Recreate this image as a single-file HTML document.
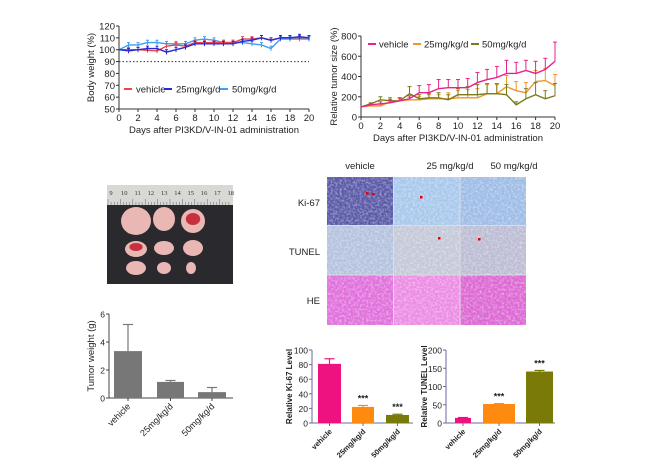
<!DOCTYPE html>
<html><head><meta charset="utf-8"><style>
html,body{margin:0;padding:0;background:#fff}
svg{display:block;font-family:"Liberation Sans",Arial,sans-serif}
</style></head><body>
<svg id="s" width="650" height="468" viewBox="0 0 650 468" xmlns="http://www.w3.org/2000/svg">
<defs>
<filter id="tx" x="0" y="0" width="100%" height="100%">
<feTurbulence type="fractalNoise" baseFrequency="0.45" numOctaves="2" seed="3"/>
<feColorMatrix type="matrix" values="0 0 0 0 1  0 0 0 0 1  0 0 0 0 1  0 0 0 1.4 -0.55"/>
</filter>
</defs>
<g id="g"></g>
</svg>
<script>
const g=document.getElementById('g');let h='';
function L(x1,y1,x2,y2,c,w,d){h+=`<line x1="${x1}" y1="${y1}" x2="${x2}" y2="${y2}" stroke="${c}" stroke-width="${w||1}" ${d?`stroke-dasharray="${d}"`:''}/>`;}
function T(x,y,t,s,a,extra){h+=`<text x="${x}" y="${y}" font-size="${s}" text-anchor="${a||'start'}" fill="#222" ${extra||''}>${t}</text>`;}
function R(x,y,w,hh,c,extra){h+=`<rect x="${x}" y="${y}" width="${w}" height="${hh}" fill="${c}" ${extra||''}/>`;}
// ---- Chart 1 body weight
{const x0=119,x1=309,yT=26,yB=109,vmin=50,vmax=120;
const X=d=>x0+(x1-x0)*d/20,Y=v=>yB-(yB-yT)*(v-vmin)/(vmax-vmin);
L(x0,yT,x0,yB,'#333');L(x0,yB,x1,yB,'#333');
for(let v=50;v<=120;v+=10){L(x0-3,Y(v),x0,Y(v),'#333');T(x0-4,Y(v)+3.5,v,9.5,'end');}
for(let d=0;d<=20;d+=2){L(X(d),yB,X(d),yB+3,'#333');T(X(d),yB+12,d,9.5,'middle');}
L(x0,Y(90),x1,Y(90),'#333',1,'1.5,2');
T((x0+x1)/2,133,'Days after PI3KD/V-IN-01 administration',9.5,'middle');
T(0,0,'Body weight (%)',9.5,'middle',`transform="translate(94,${(yT+yB)/2}) rotate(-90)"`);
const S=[['#3da0f0',[100,104,104,106,106,105,105,105,108,109,108,106,106,106,105,104,101,109,109,109,109]],
['#e8454c',[100,100,100,99.5,99,103,104,103,106,106,106,106,106,109,109,110,108,110,110,110,110]],
['#2a2ad0',[100,99,100,101,101,98,100,102,105,105,105,105,105,107,108,110,108,110,110,111,110]]];
S.forEach(([c,a])=>{h+=`<polyline fill="none" stroke="${c}" stroke-width="1.4" points="${a.map((v,i)=>X(i)+','+Y(v)).join(' ')}"/>`;
a.forEach((v,i)=>{if(i){L(X(i),Y(v+2),X(i),Y(v-2),c,1);L(X(i)-1.5,Y(v+2),X(i)+1.5,Y(v+2),c,1);}});});
[['#e8454c','vehicle',124],['#2a2ad0','25mg/kg/d',164],['#3da0f0','50mg/kg/d',220]].forEach(([c,t,x])=>{L(x,89,x+8,89,c,2);T(x+12,92.5,t,9.5);});
}
// ---- Chart 2 tumor size
{const x0=361,x1=555,yT=36,yB=117;
const X=d=>x0+(x1-x0)*d/20,Y=v=>yB-(yB-yT)*v/800;
L(x0,yT,x0,yB,'#333');L(x0,yB,x1,yB,'#333');
for(let v=0;v<=800;v+=200){L(x0-3,Y(v),x0,Y(v),'#333');T(x0-4,Y(v)+3.5,v,9.5,'end');}
for(let d=0;d<=20;d+=2){L(X(d),yB,X(d),yB+3,'#333');T(X(d),yB+12,d,9.5,'middle');}
T((x0+x1)/2,141,'Days after PI3KD/V-IN-01 administration',9.5,'middle');
T(0,0,'Relative tumor size (%)',9.5,'middle',`transform="translate(337,${(yT+yB)/2}) rotate(-90)"`);
const S=[['#f0952a',[100,110,110,150,160,170,170,180,180,180,190,190,190,230,230,300,260,240,350,360,310],[0,10,15,20,20,25,30,40,40,60,70,80,90,90,90,110,90,100,110,120,110]],
['#7a7a1a',[100,130,170,160,160,230,180,190,190,170,220,220,220,230,230,220,120,180,220,180,210],[0,10,30,30,30,70,40,40,50,50,60,80,100,100,100,100,30,100,120,80,120]],
['#e8228a',[100,120,130,140,160,180,240,240,280,290,290,290,340,370,390,430,430,460,430,470,550],[0,10,20,30,30,30,70,80,90,80,80,90,100,100,110,130,110,100,120,110,190]]];
S.forEach(([c,a,e])=>{h+=`<polyline fill="none" stroke="${c}" stroke-width="1.4" points="${a.map((v,i)=>X(i)+','+Y(v)).join(' ')}"/>`;
a.forEach((v,i)=>{if(i){L(X(i),Y(v),X(i),Y(v+e[i]),c,1);L(X(i)-2,Y(v+e[i]),X(i)+2,Y(v+e[i]),c,1);}});});
[['#e8228a','vehicle',368],['#f0952a','25mg/kg/d',413],['#7a7a1a','50mg/kg/d',471]].forEach(([c,t,x])=>{L(x,44,x+8,44,c,2);T(x+11,47.5,t,9.5);});
}
// ---- Photo
R(107,185,126,99,'#2a2a2e');R(107,185,126,20,'#d8d8d4');
['9','10','11','12','13','14','15','16','17','18'].forEach((t,i)=>{h+=`<text x="${111+i*13.3}" y="195" font-size="6.5" font-family="Liberation Serif,serif" fill="#333" text-anchor="middle">${t}</text>`;});
for(let i=0;i<40;i++)L(108+i*3.1,205,108+i*3.1,i%4?202:199,'#666',0.5);
[[136,221,15,14],[164,219,11,12],[193,221,12,12],[136,249,11,8],[164,248,10,7],[193,248,10,8],[136,268,10,7],[164,268,7,6],[191,268,5,6]].forEach(([cx,cy,rx,ry],i)=>{
h+=`<ellipse cx="${cx}" cy="${cy}" rx="${rx}" ry="${ry}" fill="#eab8b4"/>`;
if(i==2||i==3)h+=`<ellipse cx="${cx}" cy="${cy-2}" rx="${rx*0.6}" ry="${ry*0.5}" fill="#c83040"/>`;});
// ---- Histology
const cols=[327,393.5,460],rows=[177,225.5,275],cw=66,rh=[48,49.5,50];
const colr=[['#5a5aa8','#a8c8ec','#9ebce6'],['#b4c2de','#c4c8d8','#bcbcd4'],['#e070dc','#ec8ce4','#dc68d4']];
rows.forEach((y,r)=>cols.forEach((x,c)=>{R(x,y,cw,rh[r],colr[r][c]);R(x,y,cw,rh[r],'#fff',`filter="url(#tx)" opacity="0.7"`);}));
for(let c=1;c<3;c++)L(cols[c],177,cols[c],325,'#ddd',1);
L(327,225.5,527,225.5,'#ddd',1);L(327,275,527,275,'#ddd',1);
[[366,192],[372,193],[420,196],[438,237],[478,238]].forEach(([x,y])=>R(x,y,2.5,2.5,'#e00'));
T(360,169,'vehicle',9.5,'middle');T(450,169,'25 mg/kg/d',9.5,'middle');T(514,169,'50 mg/kg/d',9.5,'middle');
T(320,206,'Ki-67',9.5,'end');T(320,255,'TUNEL',9.5,'end');T(320,304,'HE',9.5,'end');
// ---- bar helper
function bars(o){const{x0,x1,yT,yB,max,step,ticks,b,ylab,lx,ac,bold}=o;const Y=v=>yB-(yB-yT)*v/max;
L(x0,yT,x0,yB,ac);L(x0,yB,x1,yB,ac);
for(let v=0;v<=max;v+=step){L(x0-3,Y(v),x0,Y(v),ac);T(x0-4,Y(v)+3.5,v,8.5,'end');}
b.forEach(([xa,xb,v,e,c,lab,star])=>{R(xa,Y(v),xb-xa,yB-Y(v),c);const cx=(xa+xb)/2;
L(cx,Y(v),cx,Y(e),c,1.2);L(cx-5,Y(e),cx+5,Y(e),c,1.2);L(cx,yB,cx,yB+3,ac);
if(star)T(cx,Y(e)-4,'***',9,'middle','font-weight="bold"');
T(0,0,lab,bold?7.5:9,'end',`transform="translate(${cx+3},${yB+9}) rotate(-45)" ${bold?'font-weight="bold"':''}`);});
T(0,0,ylab,bold?8:9.5,'middle',`transform="translate(${lx},${(yT+yB)/2}) rotate(-90)" ${bold?'font-weight="bold"':''}`);}
bars({x0:109,x1:233,yT:314,yB:398,max:6,step:2,ac:'#444',lx:94,ylab:'Tumor weight (g)',
b:[[114,142,3.35,5.25,'#777','vehicle'],[157,184,1.15,1.25,'#777','25mg/kg/d'],[198,226,0.42,0.75,'#777','50mg/kg/d']]});
bars({x0:312,x1:413,yT:350,yB:423,max:100,step:20,ac:'#6a6aa0',lx:292,ylab:'Relative Ki-67  Level',bold:1,
b:[[318,341,81,88,'#ee1180','vehicle'],[352,374,22,24,'#ff8a10','25mg/kg/d',1],[386,409,11,12,'#7a7a08','50mg/kg/d',1]]});
bars({x0:446,x1:555,yT:350,yB:423,max:200,step:50,ac:'#6a6aa0',lx:427,ylab:'Relative TUNEL Level',bold:1,
b:[[455,471,14,15,'#ee1180','vehicle'],[483,515,52,53,'#ff8a10','25mg/kg/d',1],[526,553,141,144,'#7a7a08','50mg/kg/d',1]]});
g.innerHTML=h;
</script>
</body></html>
